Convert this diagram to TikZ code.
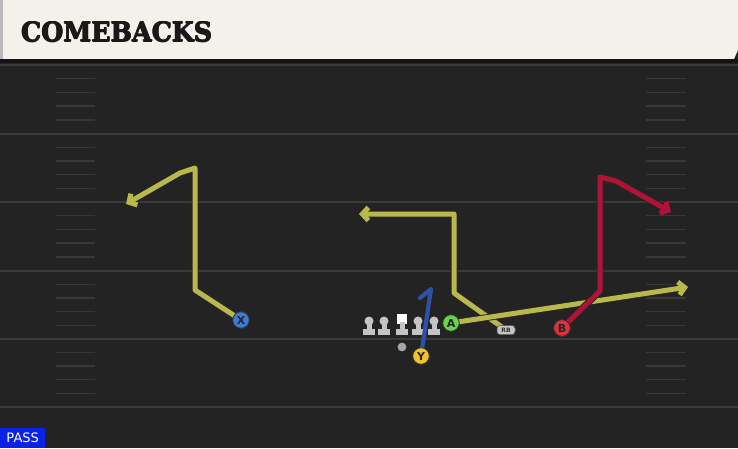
\documentclass[tikz,border=0pt]{standalone}
\usepackage{fontspec}
\setmainfont{DejaVu Sans}
\newfontfamily\titlefont{DejaVu Serif}
\usetikzlibrary{arrows.meta}
\definecolor{fieldc}{HTML}{232323}
\definecolor{hdrc}{HTML}{F4F1EA}
\definecolor{ylinec}{HTML}{3A3A3A}
\definecolor{hashc}{HTML}{383838}
\definecolor{routey}{HTML}{B8B84C}
\definecolor{router}{HTML}{B01238}
\definecolor{routeb}{HTML}{2C52A8}
\definecolor{xcol}{HTML}{3D7BD8}
\definecolor{acol}{HTML}{6AD448}
\definecolor{bcol}{HTML}{E0303C}
\definecolor{ycol}{HTML}{F2C22A}
\definecolor{passc}{HTML}{0A22E6}
\definecolor{linec}{HTML}{C4C4C4}
\tikzset{
  yardline/.style={draw=ylinec, line width=2pt},
  hashmark/.style={draw=hashc, line width=1.4pt},
  routeout/.style={draw=black!85, line width=6.8pt, line join=round, line cap=round},
  routein/.style={line width=5pt, line join=round, line cap=round},
  tip/.style={-{Straight Barb[length=6pt,width=13pt]}},
  player/.style={circle, draw=black!80, line width=0.8pt, minimum size=16.5pt, inner sep=0pt, font=\bfseries\fontsize{11}{11}\selectfont, text=black!85},
  rbtag/.style={fill=linec, draw=black!70, line width=0.5pt, rounded corners=3pt, inner sep=0pt, minimum width=18pt, minimum height=9pt, font=\bfseries\fontsize{6}{6}\selectfont, text=black!80},
  titletext/.style={anchor=west, inner sep=0pt, text=black!90},
}
\newcommand{\ttlbox}{\resizebox{191pt}{20pt}{\titlefont\bfseries COMEBACKS}}
\begin{document}
\begin{tikzpicture}[x=1pt,y=-1pt]
\useasboundingbox (0,0) rectangle (738,448);
\fill[fieldc] (0,0) rectangle (738,448);
% header
\fill[hdrc] (0,0) -- (738,0) -- (738,50) -- (734,59) -- (0,59) -- cycle;
\fill[gray!55] (0,0) rectangle (3,59);
\fill[black!92] (0,59) rectangle (738,63);
\foreach \dx/\dy in {-0.5/0,0.5/0,0/-0.4,0/0.4} {
  \node[titletext] at (21+\dx,32+\dy) {\ttlbox};
}
\node[titletext] (title) at (21,32) {\ttlbox};
% yard lines and hashes
\foreach \yy in {65,133.5,202,270.5,338.5,407} {
  \draw[yardline] (0,\yy) -- (738,\yy);
}
\foreach \yy in {65,133.5,202,270.5,338.5} {
  \foreach \k in {1,2,3,4} {
    \draw[hashmark] (56,\yy+13.7*\k) -- (95,\yy+13.7*\k);
    \draw[hashmark] (646,\yy+13.7*\k) -- (686,\yy+13.7*\k);
  }
}
% players
\node[player, fill=xcol] (X) at (241,320) {X};
\node[player, fill=acol] (A) at (451,323) {A};
\node[player, fill=bcol] (B) at (562,328) {B};
\node[player, fill=ycol] (Y) at (421,356) {Y};
\node[rbtag] (RB) at (506,330) {RB};
% route points
\coordinate (x1) at (195,290);
\coordinate (x2) at (195,168);
\coordinate (x3) at (180,173);
\coordinate (x4) at (126,204);
\coordinate (r1) at (454,293);
\coordinate (r2) at (454,214);
\coordinate (r3) at (359,214);
\coordinate (a1) at (688,287);
\coordinate (b1) at (600,291);
\coordinate (b2) at (600,177);
\coordinate (b3) at (616,181);
\coordinate (b4) at (671,212);
\coordinate (y1) at (431,289);
\coordinate (y2) at (420,298);
% routes (outline then colour)
\draw[routeout, tip] (X.center) -- (x1) -- (x2) -- (x3) -- (x4);
\draw[routein, tip, draw=routey] (X.center) -- (x1) -- (x2) -- (x3) -- (x4);
\draw[routeout, tip] (RB.center) -- (r1) -- (r2) -- (r3);
\draw[routein, tip, draw=routey] (RB.center) -- (r1) -- (r2) -- (r3);
\draw[routeout, tip] (A.center) -- (a1);
\draw[routein, tip, draw=routey] (A.center) -- (a1);
\draw[routeout, tip] (B.center) -- (b1) -- (b2) -- (b3) -- (b4);
\draw[routein, tip, draw=router] (B.center) -- (b1) -- (b2) -- (b3) -- (b4);
% redraw players on top
\node[player, fill=xcol] at (X) {X};
\node[player, fill=acol] at (A) {A};
\node[player, fill=bcol] at (B) {B};
\node[rbtag] at (RB) {RB};
% linemen
\foreach \lx in {369,384,418,434} {
  \fill[linec] (\lx,321) circle (4.5);
  \fill[linec] (\lx-2.5,321) rectangle (\lx+2.5,330);
  \fill[linec] (\lx-6,329) rectangle (\lx+6,335);
}
\node[fill=white, inner sep=0pt, minimum size=9.5pt] (C) at (402,319) {};
\fill[linec] (399.5,322) rectangle (404.5,330);
\fill[linec] (396,329) rectangle (408,335);
\fill[gray!70] (402,347) circle (4.4);
% blue route over the linemen
\draw[routein, draw=routeb, line width=4.2pt] (Y.center) -- (y1) -- (y2);
\node[player, fill=ycol] at (Y) {Y};
% pass label
\node[fill=passc, text=white, anchor=south west, inner sep=0pt, minimum width=45pt, minimum height=20pt, font=\fontsize{13}{13}\selectfont] (pass) at (0,448) {PASS};
\end{tikzpicture}
\end{document}
